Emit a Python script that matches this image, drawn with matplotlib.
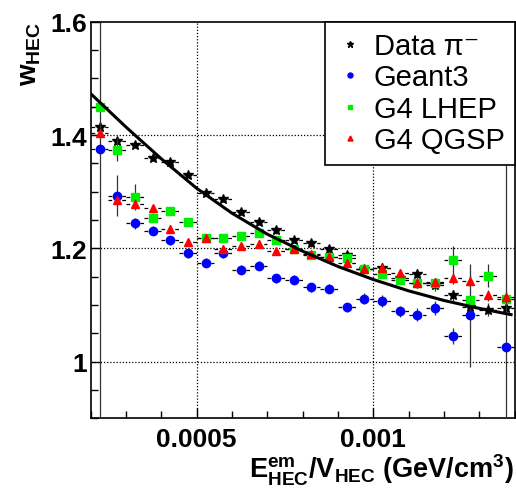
# HEC weight versus em energy density: data vs Geant3 / Geant4 physics lists

import numpy as np
import matplotlib
matplotlib.use('Agg')
import matplotlib.pyplot as plt
from matplotlib.ticker import MultipleLocator

plt.rcParams['font.family'] = ['Liberation Sans', 'DejaVu Sans']
plt.rcParams['mathtext.fontset'] = 'custom'
plt.rcParams['mathtext.rm'] = 'Liberation Sans:bold'
plt.rcParams['mathtext.it'] = 'Liberation Sans:bold'
plt.rcParams['mathtext.bf'] = 'Liberation Sans:bold'

# bin centres (GeV/cm^3)
density = [0.000225, 0.000275, 0.000325, 0.000375, 0.000425, 0.000475,
           0.000525, 0.000575, 0.000625, 0.000675, 0.000725, 0.000775,
           0.000825, 0.000875, 0.000925, 0.000975, 0.001025, 0.001075,
           0.001125, 0.001175, 0.001225, 0.001275, 0.001325, 0.001375]
half_bin = 0.000025

w_data = [1.415, 1.390, 1.383, 1.359, 1.352, 1.330, 1.298, 1.287, 1.264, 1.246,
          1.232, 1.215, 1.209, 1.199, 1.188, 1.163, 1.166, 1.147, 1.154, 1.135,
          1.117, 1.096, 1.092, 1.095]
w_geant3 = [1.375, 1.293, 1.244, 1.231, 1.214, 1.191, 1.175, 1.191, 1.162, 1.169,
            1.147, 1.145, 1.131, 1.129, 1.096, 1.111, 1.107, 1.089, 1.083, 1.095,
            1.046, 1.082, np.nan, 1.025]
w_lhep = [1.450, 1.374, 1.290, 1.254, 1.266, 1.247, 1.218, 1.219, 1.222, 1.227,
          1.214, 1.199, 1.188, 1.185, 1.183, 1.163, 1.154, 1.145, 1.138, 1.139,
          1.179, 1.108, 1.152, 1.110]
w_qgsp = [1.403, 1.285, 1.279, 1.271, 1.235, 1.212, 1.219, 1.198, 1.205, 1.208,
          1.195, 1.198, 1.190, 1.185, 1.175, 1.164, 1.166, 1.157, 1.138, 1.140,
          1.147, 1.143, 1.117, 1.114]

# vertical errors (mostly hidden under the markers)
err_data = [0.006, 0.006, 0.005, 0.005, 0.005, 0.005, 0.005, 0.005, 0.005, 0.005,
            0.006, 0.006, 0.006, 0.006, 0.007, 0.007, 0.008, 0.008, 0.009, 0.010,
            0.010, 0.011, 0.012, 0.012]
err_geant3 = [1.0, 0.036, 0.010, 0.008, 0.008, 0.008, 0.008, 0.008, 0.008, 0.008,
              0.008, 0.008, 0.008, 0.008, 0.008, 0.010, 0.010, 0.010, 0.012, 0.012,
              0.014, 0.091, 0.0, 1.0]
err_lhep = [0.006, 0.020, 0.023, 0.008, 0.006, 0.006, 0.006, 0.006, 0.006, 0.006,
            0.006, 0.006, 0.006, 0.006, 0.006, 0.006, 0.006, 0.006, 0.008, 0.008,
            0.025, 0.010, 0.021, 0.010]
err_qgsp = [0.006, 0.010, 0.008, 0.006, 0.006, 0.006, 0.006, 0.006, 0.006, 0.006,
            0.006, 0.006, 0.006, 0.006, 0.006, 0.006, 0.006, 0.006, 0.008, 0.008,
            0.010, 0.010, 0.010, 0.010]

# fitted curve
fit_x = [0.0002, 0.0003, 0.0004, 0.0005, 0.0006, 0.0007, 0.0008, 0.0009,
         0.0010, 0.0011, 0.0012, 0.0013, 0.00139]
fit_w = [1.473, 1.414, 1.358, 1.306, 1.262, 1.225, 1.195, 1.168,
         1.145, 1.125, 1.108, 1.094, 1.083]

fig = plt.figure(figsize=(5.16, 4.89), dpi=100)
ax = fig.add_axes([0.1758, 0.1425, 0.8215, 0.811])

ax.set_xlim(0.0002, 0.0014)
ax.set_ylim(0.9, 1.6)

# grid at the major ticks
for gx in [0.0005, 0.001]:
    ax.axvline(gx, color='k', lw=0.9, ls=(0, (1, 1.5)), zorder=1)
for gy in [1.0, 1.2, 1.4]:
    ax.axhline(gy, color='k', lw=0.9, ls=(0, (1, 1.5)), zorder=1)

series = [
    ('Data π⁻', w_data, err_data, '*', 'black', 7.5),
    ('Geant3', w_geant3, err_geant3, 'o', '#0000ff', 6),
    ('G4 LHEP', w_lhep, err_lhep, 's', '#00ee00', 5.5),
    ('G4 QGSP', w_qgsp, err_qgsp, '^', '#ff0000', 6),
]

handles = []
for k, (label, w, err, mk, col, ms) in enumerate(series):
    eb = ax.errorbar(density, w, xerr=half_bin, fmt='none', ecolor='k',
                     elinewidth=0.9, zorder=2 + k)
    eb.lines[2][0].set_linestyle((0, (3, 2.5)))
    ax.errorbar(density, w, yerr=err, fmt='none', ecolor='#333333',
                elinewidth=0.9, zorder=2 + k)
    h, = ax.plot(density, w, ls='none', marker=mk, color=col, ms=ms,
                 mec=col, zorder=3 + k, label=label)
    handles.append(h)

ax.plot(fit_x, fit_w, color='k', lw=2.2, zorder=10)

ax.xaxis.set_major_locator(MultipleLocator(0.0005))
ax.xaxis.set_minor_locator(MultipleLocator(0.0001))
ax.yaxis.set_major_locator(MultipleLocator(0.2))
ax.yaxis.set_minor_locator(MultipleLocator(0.05))
ax.set_xticks([0.0005, 0.001])
ax.set_xticklabels(['0.0005', '0.001'])
ax.set_yticks([1.0, 1.2, 1.4, 1.6])
ax.set_yticklabels(['1', '1.2', '1.4', '1.6'])
ax.tick_params(which='both', direction='in', top=False, right=False)
ax.tick_params(which='major', length=7, width=1)
ax.tick_params(which='minor', length=5, width=1)
ax.tick_params(axis='x', pad=6, labelsize=19)
ax.tick_params(axis='y', pad=2.5, labelsize=19)
for lab in ax.get_xticklabels() + ax.get_yticklabels():
    lab.set_fontweight('bold')
for s in ax.spines.values():
    s.set_linewidth(1.2)

fig.text(0.995, 0.003, 'E$^{em}_{HEC}$/V$_{HEC}$ (GeV/cm$^{3}$)',
         ha='right', va='bottom', fontsize=19.5, fontweight='bold')
fig.text(0.058, 0.955, 'w$_{HEC}$', rotation=90, ha='center', va='top',
         fontsize=20, fontweight='bold')

leg = ax.legend(handles=handles, loc='upper right', bbox_to_anchor=(1.0, 1.0),
                borderaxespad=0, fancybox=False, edgecolor='k', framealpha=1,
                fontsize=21, markerscale=0.6, handlelength=1.0,
                handletextpad=0.3, labelspacing=0.12, borderpad=0.35)
leg.get_frame().set_linewidth(1.2)
leg.set_zorder(20)

fig.savefig('out.png', dpi=100)
